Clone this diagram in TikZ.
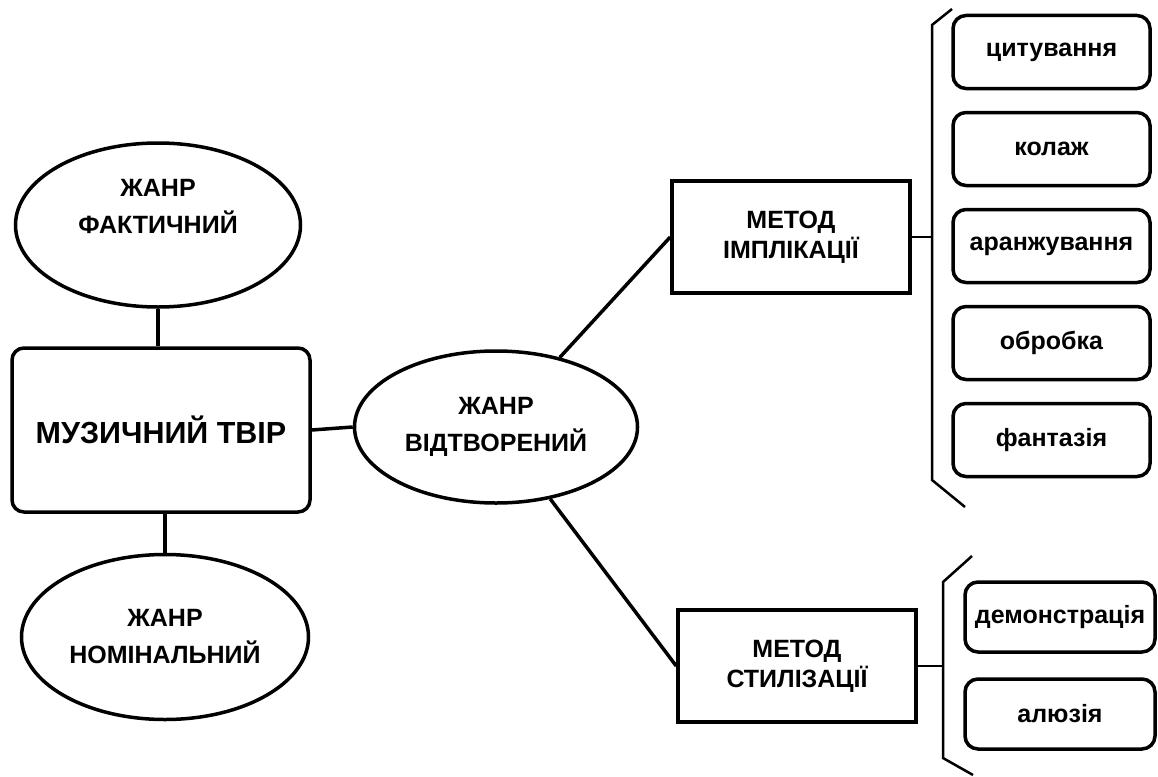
\documentclass[tikz,border=0pt]{standalone}
\usepackage{fontspec}
\setmainfont{Liberation Sans}
\usetikzlibrary{shapes.geometric}

\begin{document}
\begin{tikzpicture}[x=1pt,y=-1pt,
    ell/.style={draw,ellipse,line width=3.5pt,inner sep=0pt,align=center,font=\bfseries\fontsize{25}{37}\selectfont},
    mainbox/.style={draw,rounded corners=12pt,line width=3.5pt,minimum width=298pt,minimum height=164pt,font=\bfseries\fontsize{30.5}{34}\selectfont},
    methbox/.style={draw,line width=3.5pt,minimum width=238pt,minimum height=112pt,align=center,font=\bfseries\fontsize{25}{30}\selectfont},
    itembox/.style={draw,rounded corners=13pt,line width=3.5pt,minimum width=197pt,minimum height=73pt,font=\bfseries\fontsize{25}{28}\selectfont},
    conn/.style={line width=3.5pt},
    brace/.style={line width=2.5pt}]
\useasboundingbox (0,0) rectangle (1158,776);

\node[ell,minimum width=285pt,minimum height=164pt] (fact) at (158,225) {ЖАНР\\ФАКТИЧНИЙ\\~};
\node[mainbox] (muz) at (161,430) {МУЗИЧНИЙ ТВІР};
\node[ell,minimum width=287pt,minimum height=165pt] (nom) at (165,637) {ЖАНР\\НОМІНАЛЬНИЙ};
\node[ell,minimum width=283pt,minimum height=152pt] (vid) at (496,427) {ЖАНР\\ВІДТВОРЕНИЙ};

\node[methbox] (imp) at (791,237) {МЕТОД\\ІМПЛІКАЦІЇ};
\node[methbox] (sty) at (797,666) {МЕТОД\\СТИЛІЗАЦІЇ};

\foreach \t [count=\i] in {цитування,колаж,аранжування,обробка,фантазія}
    \node[itembox] (imp\i) at (1051.5,{52+97*(\i-1)}) {\t};
\node[itembox,minimum width=190pt,minimum height=70pt] (sty1) at (1060,617) {демонстрація};
\node[itembox,minimum width=190pt,minimum height=70pt] (sty2) at (1060,714) {алюзія};

\draw[conn] (fact.south) -- (fact.south |- muz.north);
\draw[conn] (nom.north) -- (nom.north |- muz.south);
\draw[conn] (muz.east) -- (vid.west);
\draw[conn] (vid) -- (imp.west);
\draw[conn] (vid) -- (sty.west);

\coordinate (br1) at (932,238);
\coordinate (br2) at (943,668);
\draw[brace] (952,9) -- (932,25) -- (932,480) -- (965,507);
\draw[brace] (972,556) -- (943,582) -- (943,758) -- (973,775);
\draw[brace] (imp.east) -- (imp.east -| br1);
\draw[brace] (sty.east) -- (sty.east -| br2);
\end{tikzpicture}
\end{document}
